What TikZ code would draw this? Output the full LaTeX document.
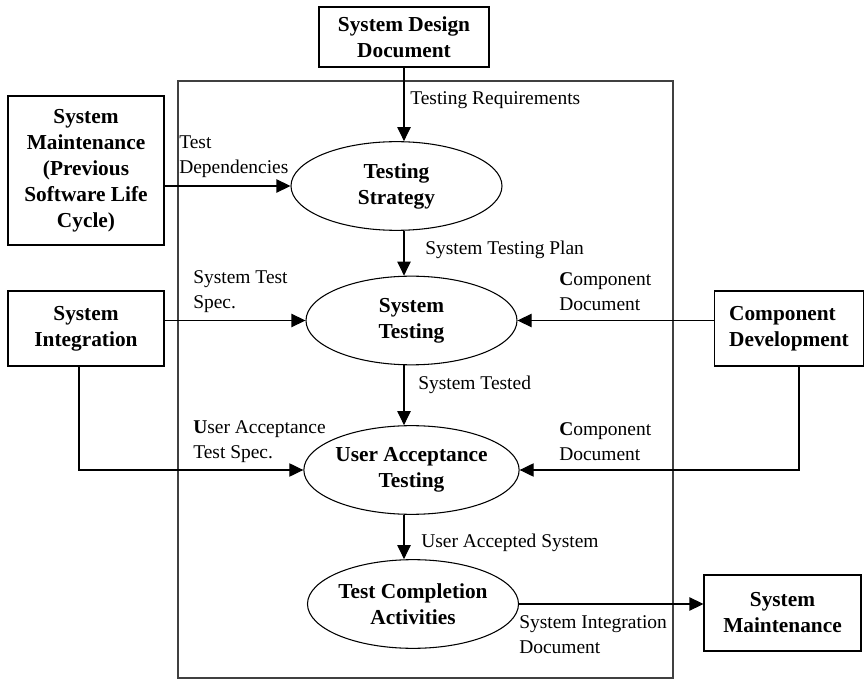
\documentclass[tikz,border=0pt]{standalone}
\usepackage{fontspec}
\setmainfont{Liberation Serif}
\usetikzlibrary{arrows.meta,shapes.geometric}
\begin{document}
\begin{tikzpicture}[x=0.75pt,y=-0.75pt,
 box/.style={draw,line width=0.8pt,inner sep=0pt,align=center,font=\bfseries\fontsize{16}{19.5}\selectfont},
 proc/.style={draw,ellipse,line width=0.8pt,inner sep=0pt,align=center,font=\bfseries\fontsize{16}{19.5}\selectfont,minimum width=158.25pt,minimum height=66.5pt},
 lbl/.style={anchor=west,inner sep=0pt,align=left,font=\fontsize{14.6}{18.75}\selectfont},
 arr/.style={line width=0.8pt,-{Triangle[length=10.5pt,width=10pt]}},
 frame/.style={line width=0.8pt,draw=black!75}]
\useasboundingbox (0,0) rectangle (865,681);
\draw[frame] (178,81) rectangle (673,678);
% boxes
\node[box,minimum width=127.5pt,minimum height=45pt] (sdd) at (404,37) {System Design\\Document};
\node[box,minimum width=117pt,minimum height=111.75pt] (smp) at (86,170.5) {System\\Maintenance\\(Previous\\Software Life\\Cycle)};
\node[box,minimum width=117pt,minimum height=56.25pt] (si) at (86,328.5) {System\\Integration};
\node[box,align=left,minimum width=112pt,minimum height=56.25pt] (cd) at (789,328.5) {Component\\Development};
\node[box,minimum width=117.75pt,minimum height=57pt] (sm) at (782.5,613) {System\\Maintenance};
% processes
\node[proc] (ts) at (396.5,186) {Testing\\Strategy};
\node[proc] (st) at (411.5,320.5) {System\\Testing};
\node[proc] (uat) at (411.5,470) {User Acceptance\\Testing};
\node[proc] (tca) at (413,604) {Test Completion\\Activities};
% connectors
\draw[arr] (sdd.south) -- (sdd.south |- ts.north);
\draw[arr] (smp.east |- ts.west) -- (ts.west);
\draw[arr] (ts.south -| sdd.south) -- (st.north -| sdd.south);
\draw[arr] (si.east |- st.west) -- (st.west);
\draw[arr] (cd.west |- st.east) -- (st.east);
\draw[arr] (st.south -| sdd.south) -- (uat.north -| sdd.south);
\draw[arr] ([xshift=-5.25pt]si.south) |- (uat.west);
\draw[arr] ([xshift=7.5pt]cd.south) |- (uat.east);
\draw[arr] (uat.south -| sdd.south) -- (tca.north -| sdd.south);
\draw[arr] (tca.east) -- (tca.east -| sm.west);
% labels
\node[lbl] (l1) at (410,100) {Testing Requirements};
\node[lbl] (l2) at (179,157) {Test\\Dependencies};
\node[lbl] (l3) at (425,250) {System Testing Plan};
\node[lbl] (l4) at (193,292) {System Test\\Spec.};
\node[lbl] (l5) at (559,291.5) {\textbf{C}omponent\\Document};
\node[lbl] (l6) at (418,385) {System Tested};
\node[lbl] (l7) at (193,441.5) {\textbf{U}ser Acceptance\\Test Spec.};
\node[lbl] (l8) at (559,441.5) {\textbf{C}omponent\\Document};
\node[lbl] (l9) at (421,543) {User Accepted System};
\node[lbl] (l10) at (519,635) {System Integration\\Document};
\end{tikzpicture}
\end{document}
